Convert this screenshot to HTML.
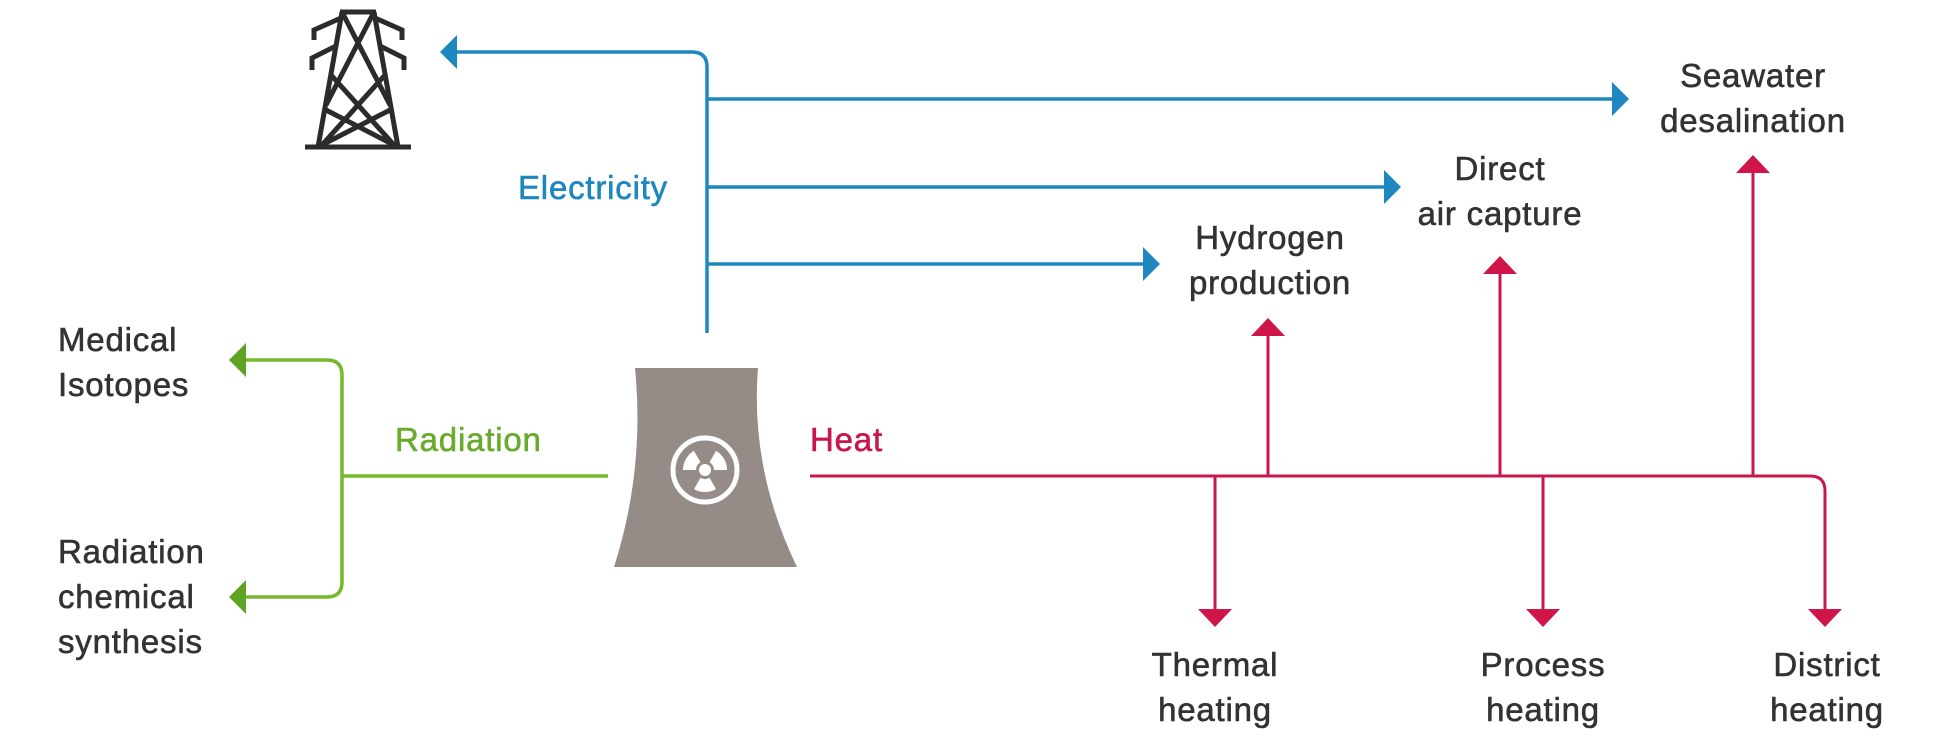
<!DOCTYPE html>
<html><head><meta charset="utf-8"><style>
html,body{margin:0;padding:0;background:#fff;}
svg{display:block;}
text{font-family:"Liberation Sans",sans-serif;font-size:33px;letter-spacing:0.8px;fill:#333;stroke:#333;stroke-width:0.6px;}
</style></head><body>
<svg width="1934" height="738" viewBox="0 0 1934 738" xmlns="http://www.w3.org/2000/svg">
<!-- pylon -->
<g stroke="#2b2b2b" stroke-width="5" fill="none" stroke-linejoin="miter">
<line x1="305" y1="147" x2="411" y2="147"/>
<line x1="340" y1="12" x2="376" y2="12"/>
<path d="M318 147 L342 12 M398 147 L374 12"/>
<path d="M342 12 L390 105 M374 12 L326 105 M331 75 L394 145 M385 75 L322 145 M326 110 L398 147 M390 110 L318 147"/>
<path d="M341 18 L314 30 L314 40 M336 46 L312 58 L312 70 M375 18 L402 30 L402 40 M380 46 L404 58 L404 70"/>
</g>
<!-- electricity -->
<g stroke="#1f87c0" stroke-width="3.5" fill="none">
<path d="M455 52 L692 52 Q707 52 707 67 L707 333"/>
<line x1="707" y1="99" x2="1612" y2="99"/>
<line x1="707" y1="187" x2="1384" y2="187"/>
<line x1="707" y1="264" x2="1143" y2="264"/>
</g>
<g fill="#1f87c0">
<polygon points="440,52 457,35 457,69"/>
<polygon points="1629,99 1612,82 1612,116"/>
<polygon points="1401,187 1384,170 1384,204"/>
<polygon points="1160,264 1143,247 1143,281"/>
</g>
<text x="518" y="199" style="fill:#1f87c0;stroke:#1f87c0">Electricity</text>
<!-- radiation -->
<g stroke="#76b82a" stroke-width="3.5" fill="none">
<path d="M244 360 L327 360 Q342 360 342 375 L342 582 Q342 597 327 597 L244 597"/>
<line x1="342" y1="476" x2="608" y2="476"/>
</g>
<g fill="#5fa324">
<polygon points="229,360 246,343 246,377"/>
<polygon points="229,597 246,580 246,614"/>
</g>
<text x="395" y="451" style="fill:#6aab2e;stroke:#6aab2e">Radiation</text>
<text x="58" y="351">Medical</text>
<text x="58" y="396">Isotopes</text>
<text x="58" y="563">Radiation</text>
<text x="58" y="608">chemical</text>
<text x="58" y="653">synthesis</text>
<!-- tower -->
<path d="M635 368 L758 368 Q750 470 797 567 L614 567 Q645 470 635 368 Z" fill="#968c87"/>
<circle cx="705" cy="470" r="32" fill="none" stroke="#fff" stroke-width="5"/>
<g fill="#fff">
<path d="M709.5 477.8 L716 489.1 A22 22 0 0 1 694 489.1 L700.5 477.8 A9 9 0 0 0 709.5 477.8 Z"/>
<path transform="rotate(120 705 470)" d="M709.5 477.8 L716 489.1 A22 22 0 0 1 694 489.1 L700.5 477.8 A9 9 0 0 0 709.5 477.8 Z"/>
<path transform="rotate(240 705 470)" d="M709.5 477.8 L716 489.1 A22 22 0 0 1 694 489.1 L700.5 477.8 A9 9 0 0 0 709.5 477.8 Z"/>
</g>
<circle cx="705" cy="470" r="6" fill="#fff"/>
<!-- heat -->
<g stroke="#c8174a" stroke-width="3" fill="none">
<path d="M810 476 L1810 476 Q1825 476 1825 491 L1825 610"/>
<line x1="1268" y1="476" x2="1268" y2="335"/>
<line x1="1500" y1="476" x2="1500" y2="273"/>
<line x1="1753" y1="476" x2="1753" y2="172"/>
<line x1="1215" y1="476" x2="1215" y2="610"/>
<line x1="1543" y1="476" x2="1543" y2="610"/>
</g>
<g fill="#d0154a">
<polygon points="1268,318 1251,336 1285,336"/>
<polygon points="1500,256 1483,274 1517,274"/>
<polygon points="1753,155 1736,173 1770,173"/>
<polygon points="1215,627 1198,609 1232,609"/>
<polygon points="1543,627 1526,609 1560,609"/>
<polygon points="1825,627 1808,609 1842,609"/>
</g>
<text x="810" y="451" style="fill:#c8174a;stroke:#c8174a">Heat</text>
<g text-anchor="middle">
<text x="1270" y="249">Hydrogen</text>
<text x="1270" y="294">production</text>
<text x="1500" y="180">Direct</text>
<text x="1500" y="225">air capture</text>
<text x="1753" y="87">Seawater</text>
<text x="1753" y="132">desalination</text>
<text x="1215" y="676">Thermal</text>
<text x="1215" y="721">heating</text>
<text x="1543" y="676">Process</text>
<text x="1543" y="721">heating</text>
<text x="1827" y="676">District</text>
<text x="1827" y="721">heating</text>
</g>
</svg>
</body></html>
